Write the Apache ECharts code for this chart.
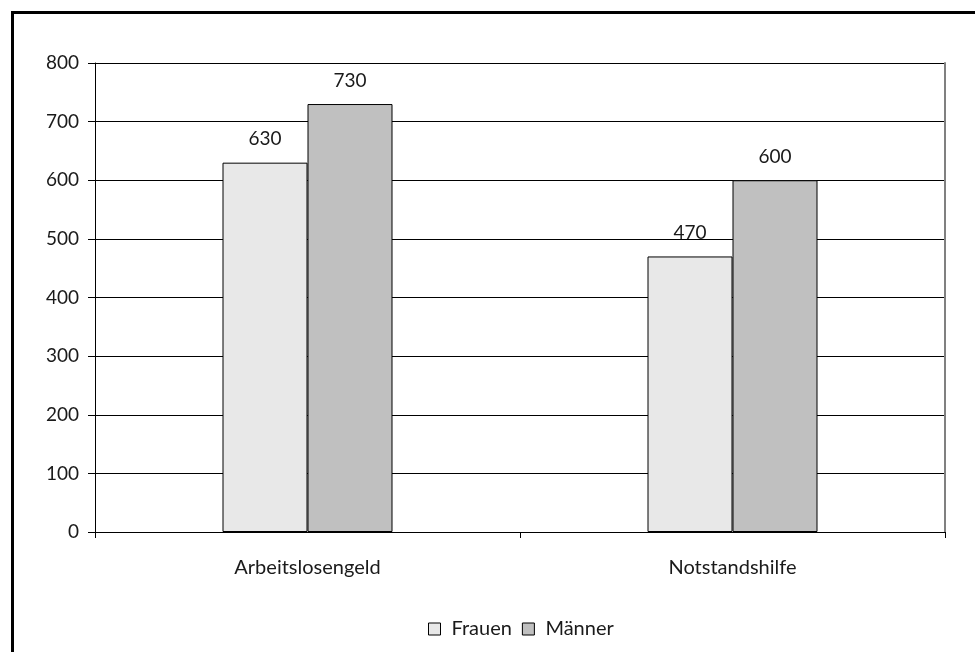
<!DOCTYPE html>
<html>
<head>
<meta charset="utf-8">
<script src="https://cdn.jsdelivr.net/npm/echarts@6/dist/echarts.min.js"></script>
<style>
html,body{margin:0;padding:0;background:#fff;}
#chart{width:975px;height:652px;}
</style>
</head>
<body>
<div id="chart"></div>
<script>
const categories = ['Arbeitslosengeld', 'Notstandshilfe'];
const seriesNames = ['Frauen', 'Männer'];
const frauen = [630, 470];
const maenner = [730, 600];
const yTicks = [0, 100, 200, 300, 400, 500, 600, 700, 800];

const FONT = 'Lato';
const TXT = '#1a1a1a';

const chart = echarts.init(document.getElementById('chart'));
chart.setOption({
  backgroundColor: '#fff',
  animation: false,
  textStyle: { fontFamily: FONT, color: TXT },
  graphic: [{
    type: 'rect',
    shape: { x: 12.5, y: 12.5, width: 1100, height: 800 },
    style: { fill: 'none', stroke: '#000', lineWidth: 3 },
    silent: true, z: 100
  }],
  grid: { left: 95, right: 30, top: 63, bottom: 120, containLabel: false },
  legend: {
    data: seriesNames,
    bottom: 8,
    left: 423,
    itemWidth: 12, itemHeight: 12, itemGap: 10,
    icon: 'rect',
    textStyle: { fontFamily: FONT, fontSize: 20, color: TXT, padding: [0, 0, 0, 6] },
    itemStyle: { borderColor: '#000', borderWidth: 1 }
  },
  xAxis: {
    type: 'category',
    data: categories,
    boundaryGap: true,
    axisLine: { lineStyle: { color: '#000', width: 1 } },
    axisTick: { show: true, length: 6, lineStyle: { color: '#000' } },
    axisLabel: { fontFamily: FONT, fontSize: 20, color: TXT, margin: 26 },
    splitLine: { show: false }
  },
  yAxis: [{
    type: 'value',
    min: 0, max: yTicks[yTicks.length - 1], interval: 100,
    axisLine: { show: true, lineStyle: { color: '#000', width: 1 } },
    axisTick: { show: true, length: 7, lineStyle: { color: '#000' } },
    axisLabel: { fontFamily: FONT, fontSize: 19, color: TXT, margin: 16 },
    splitLine: { show: true, lineStyle: { color: '#000', width: 1 } }
  }, {
    type: 'value',
    position: 'right',
    min: 0, max: yTicks[yTicks.length - 1], interval: 100,
    axisLine: { show: true, lineStyle: { color: '#808080', width: 2 } },
    axisTick: { show: false },
    axisLabel: { show: false },
    splitLine: { show: false }
  }],
  series: [{
    name: seriesNames[0],
    type: 'bar',
    data: frauen,
    barGap: '0%',
    barCategoryGap: '60%',
    itemStyle: { color: '#e8e8e8', borderColor: '#000', borderWidth: 1 },
    label: { show: true, position: 'top', distance: 14, fontFamily: FONT, fontSize: 19, color: TXT }
  }, {
    name: seriesNames[1],
    type: 'bar',
    data: maenner,
    barGap: '0%',
    barCategoryGap: '60%',
    itemStyle: { color: '#c0c0c0', borderColor: '#000', borderWidth: 1 },
    label: { show: true, position: 'top', distance: 14, fontFamily: FONT, fontSize: 19, color: TXT }
  }]
});
</script>
</body>
</html>
